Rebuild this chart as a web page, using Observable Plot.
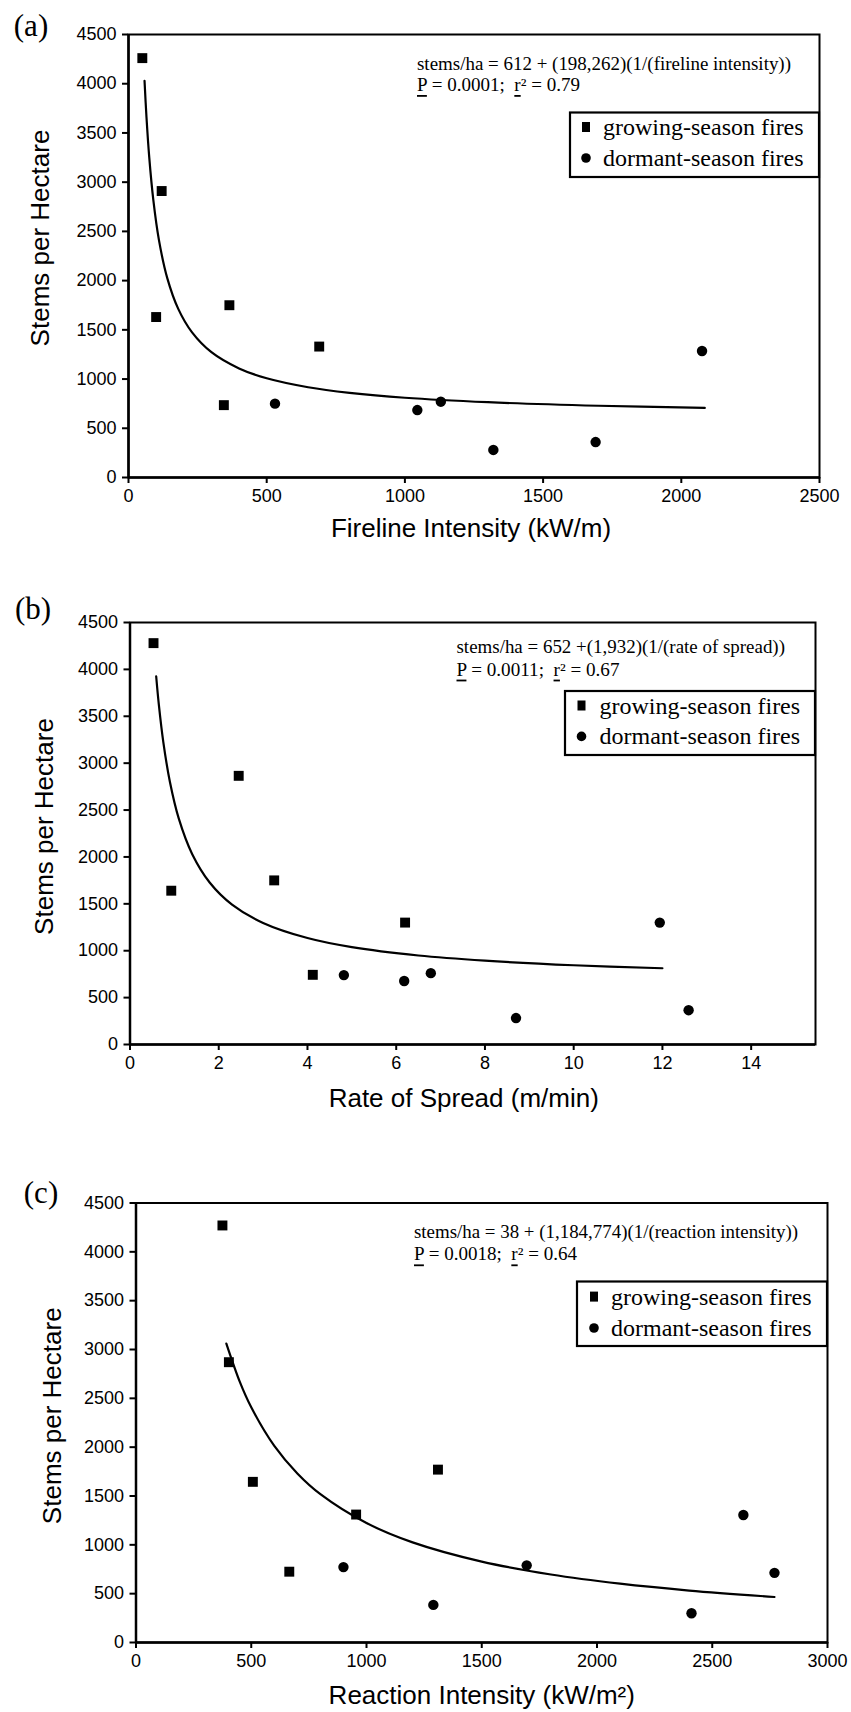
<!DOCTYPE html>
<html><head><meta charset="utf-8">
<script src="https://cdn.jsdelivr.net/npm/d3@7"></script>
<script src="https://cdn.jsdelivr.net/npm/@observablehq/plot@0.6"></script>
<style>
body{margin:0;background:#fff;}
#wrap{position:relative;width:851px;height:1712px;background:#fff;overflow:hidden}
#wrap svg{position:absolute;left:0;overflow:visible}
</style></head><body><div id="wrap"></div>
<script>
// ---------- data ----------
const yTicks = [0, 500, 1000, 1500, 2000, 2500, 3000, 3500, 4000, 4500];
const aTicks = [0, 500, 1000, 1500, 2000, 2500];
const bTicks = [0, 2, 4, 6, 8, 10, 12, 14];
const cTicks = [0, 500, 1000, 1500, 2000, 2500, 3000];

const seriesNames = ["growing-season fires", "dormant-season fires"];

// (a) fireline intensity
const aGrowX = [50, 120, 100, 365, 690, 345];
const aGrowY = [4260, 2910, 1630, 1750, 1330, 735];
const aDormX = [530, 1045, 1130, 1320, 1690, 2075];
const aDormY = [750, 685, 770, 280, 360, 1285];
const aFitX = [58, 65, 75, 90, 110, 140, 180, 230, 300, 400, 500, 650, 800, 1000, 1300, 1700, 2085];
const aFitY = [4030, 3662, 3255, 2815, 2414, 2028, 1713, 1474, 1273, 1108, 1008, 917, 860, 810, 765, 729, 707];

// (b) rate of spread
const bGrowX = [0.53, 0.93, 2.45, 3.25, 6.2, 4.12];
const bGrowY = [4280, 1640, 2865, 1750, 1300, 743];
const bDormX = [4.82, 6.18, 6.78, 8.7, 11.94, 12.59];
const bDormY = [740, 677, 761, 282, 1300, 366];
const bFitX = [0.59, 0.65, 0.75, 0.9, 1.1, 1.4, 1.8, 2.3, 3, 4, 5, 6.5, 8, 10, 12];
const bFitY = [3927, 3624, 3228, 2799, 2408, 2032, 1725, 1492, 1296, 1135, 1038, 949, 894, 845, 813];

// (c) reaction intensity
const cGrowX = [375, 403, 507, 665, 955, 1310];
const cGrowY = [4270, 2870, 1645, 725, 1310, 1770];
const cDormX = [900, 1290, 1695, 2410, 2635, 2770];
const cDormY = [772, 385, 790, 300, 1305, 713];
const cFitX = [392, 450, 500, 600, 700, 800, 1000, 1200, 1500, 1800, 2100, 2400, 2770];
const cFitY = [3060, 2671, 2408, 2013, 1731, 1519, 1223, 1025, 828, 696, 602, 532, 466];

const eqA = ["stems/ha = 612 + (198,262)(1/(fireline intensity))", "0.0001", "0.79"];
const eqB = ["stems/ha = 652 +(1,932)(1/(rate of spread))", "0.0011", "0.67"];
const eqC = ["stems/ha = 38 + (1,184,774)(1/(reaction intensity))", "0.0018", "0.64"];

// ---------- drawing ----------
const zip = (xs, ys) => xs.map((x, i) => ({x, y: ys[i]}));
const wrap = document.getElementById("wrap");
const serif = "'Liberation Serif', 'Times New Roman', serif";
const sans = "'Liberation Sans', Arial, sans-serif";

function panel(p) {
  const plot = Plot.plot({
    width: 851, height: p.H,
    marginTop: p.mt, marginBottom: p.mb, marginLeft: p.ml, marginRight: p.mr,
    style: {fontFamily: sans, fontSize: "18px", background: "white", color: "black", overflow: "visible"},
    x: {domain: p.xDomain},
    y: {domain: [0, 4500]},
    marks: [
      Plot.frame({stroke: "black", strokeWidth: 2}),
      Plot.axisX({ticks: p.xTicks, tickSize: 6, tickPadding: 6, tickFormat: d => String(d), label: null, strokeWidth: 2, fontSize: 18}),
      Plot.axisY({ticks: yTicks, tickSize: 6, tickPadding: 6, tickFormat: d => String(d), label: null, strokeWidth: 2, fontSize: 18}),
      Plot.ruleY([0], {stroke: "black", strokeWidth: 2.5}),
      Plot.ruleX([0], {stroke: "black", strokeWidth: 2.5}),
      Plot.line(zip(p.fitX, p.fitY), {x: "x", y: "y", curve: "catmull-rom", stroke: "black", strokeWidth: 2.2}),
      Plot.dot(zip(p.growX, p.growY), {x: "x", y: "y", symbol: "square", r: 5.6, fill: "black", stroke: "none"}),
      Plot.dot(zip(p.dormX, p.dormY), {x: "x", y: "y", symbol: "circle", r: 5.2, fill: "black", stroke: "none"}),
      Plot.text([p.xLabel], {text: d => d, frameAnchor: "bottom", textAnchor: "middle", lineAnchor: "middle", dy: p.xLabDy, dx: p.xLabDx, fontSize: 26, fontFamily: sans}),
      Plot.text([p.yLabel], {text: d => d, frameAnchor: "left", textAnchor: "middle", lineAnchor: "middle", dx: p.yLabDx, dy: p.yLabDy, rotate: -90, fontSize: 26, fontFamily: sans})
    ]
  });
  plot.style.top = p.T + "px";
  wrap.appendChild(plot);

  const s = d3.select(plot);
  const g = s.append("g").attr("text-anchor", "start");
  // panel label
  g.append("text").attr("x", p.lab[0]).attr("y", p.lab[1])
    .attr("text-anchor", "middle").attr("dominant-baseline", "central")
    .style("font-family", serif).style("font-size", "31px").text(p.labText);
  // equation
  g.append("text").attr("x", p.eqX).attr("y", p.eqY1).attr("dominant-baseline", "central")
    .attr("text-anchor", "start")
    .attr("textLength", p.eqW).attr("lengthAdjust", "spacingAndGlyphs")
    .style("font-family", serif).style("font-size", "18px").text(p.eq[0]);
  const t2 = g.append("text").attr("x", p.eqX).attr("y", p.eqY2).attr("dominant-baseline", "central")
    .attr("text-anchor", "start")
    .attr("textLength", 163).attr("lengthAdjust", "spacingAndGlyphs")
    .style("font-family", serif).style("font-size", "18px");
  t2.append("tspan").style("text-decoration", "underline").text("P");
  t2.append("tspan").text(" = " + p.eq[1] + ";  ");
  t2.append("tspan").style("text-decoration", "underline").text("r");
  t2.append("tspan").text("² = " + p.eq[2]);
  // legend
  const L = p.leg;
  g.append("rect").attr("x", L.x0).attr("y", L.y0).attr("width", L.x1 - L.x0).attr("height", L.y1 - L.y0)
    .attr("fill", "white").attr("stroke", "black").attr("stroke-width", 2.2);
  g.append("rect").attr("x", L.mx - 4).attr("y", L.r1 - 5).attr("width", 8).attr("height", 10).attr("fill", "black");
  g.append("circle").attr("cx", L.mx).attr("cy", L.r2).attr("r", 4.8).attr("fill", "black");
  [L.r1, L.r2].forEach((ry, i) => {
    g.append("text").attr("x", L.tx).attr("y", ry).attr("dominant-baseline", "central")
      .attr("text-anchor", "start")
      .style("font-family", serif).style("font-size", "24px").text(seriesNames[i]);
  });
}

panel({
  T: 0, H: 570, mt: 34, mb: 93, ml: 128, mr: 32,
  xDomain: [0, 2500], xTicks: aTicks,
  growX: aGrowX, growY: aGrowY, dormX: aDormX, dormY: aDormY, fitX: aFitX, fitY: aFitY,
  xLabel: "Fireline Intensity (kW/m)", xLabDy: 51, xLabDx: -3,
  yLabel: "Stems per Hectare", yLabDx: -88, yLabDy: -18,
  lab: [31, 25], labText: "(a)",
  eq: eqA, eqX: 417, eqY1: 64, eqY2: 85, eqW: 374,
  leg: {x0: 570, x1: 819, y0: 112.5, y1: 177, r1: 127, r2: 158, mx: 586, tx: 603}
});

panel({
  T: 570, H: 554, mt: 52, mb: 80, ml: 129.5, mr: 36,
  xDomain: [0, 15.45], xTicks: bTicks,
  growX: bGrowX, growY: bGrowY, dormX: bDormX, dormY: bDormY, fitX: bFitX, fitY: bFitY,
  xLabel: "Rate of Spread (m/min)", xLabDy: 54, xLabDx: -9,
  yLabel: "Stems per Hectare", yLabDx: -85, yLabDy: -7,
  lab: [33, 38], labText: "(b)",
  eq: eqB, eqX: 456.5, eqY1: 77.3, eqY2: 99.6, eqW: 328.5,
  leg: {x0: 565, x1: 815, y0: 121, y1: 185, r1: 135.5, r2: 166.4, mx: 581.5, tx: 599.5}
});

panel({
  T: 1124, H: 588, mt: 78.5, mb: 70, ml: 135.5, mr: 24,
  xDomain: [0, 3000], xTicks: cTicks,
  growX: cGrowX, growY: cGrowY, dormX: cDormX, dormY: cDormY, fitX: cFitX, fitY: cFitY,
  xLabel: "Reaction Intensity (kW/m²)", xLabDy: 53, xLabDx: 0,
  yLabel: "Stems per Hectare", yLabDx: -83.5, yLabDy: -7,
  lab: [41, 68], labText: "(c)",
  eq: eqC, eqX: 414, eqY1: 108, eqY2: 130.4, eqW: 384,
  leg: {x0: 577, x1: 827, y0: 157.5, y1: 222, r1: 172.6, r2: 204, mx: 594, tx: 611}
});
</script></body></html>
